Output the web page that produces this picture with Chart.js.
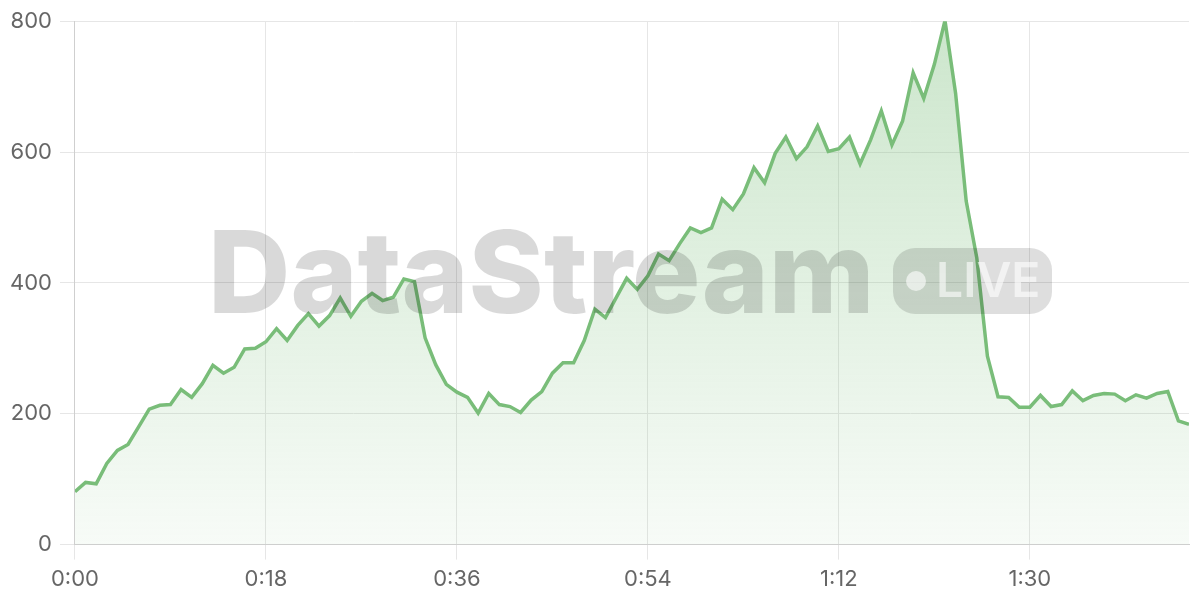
<!DOCTYPE html>
<html>
<head>
<meta charset="utf-8">
<script src="https://cdn.jsdelivr.net/npm/chart.js@4.4.1/dist/chart.umd.min.js"></script>
<style>
  html, body { margin: 0; padding: 0; background: #fff; }
  #wrap { width: 1200px; height: 600px; position: relative; }
</style>
</head>
<body>
<div id="wrap"><canvas id="streamChart"></canvas></div>
<script>
// one reading per second, 0:00 .. 1:45
const viewers = [
  81, 95, 93, 124, 144, 153, 180, 207, 213, 214,
  237, 225, 246, 274, 262, 271, 299, 300, 310, 330,
  312, 335, 353, 334, 350, 377, 349, 372, 384, 373,
  378, 406, 402, 316, 275, 245, 233, 225, 201, 231,
  214, 211, 202, 221, 234, 262, 278, 278, 312, 360,
  347, 377, 407, 390, 411, 444, 434, 460, 484, 477,
  484, 528, 512, 536, 576, 553, 598, 623, 590, 608,
  640, 601, 605, 623, 582, 619, 663, 611, 647, 721,
  682, 734, 801, 690, 525, 438, 288, 226, 225, 210,
  210, 228, 211, 214, 235, 220, 228, 231, 230, 220,
  229, 224, 231, 234, 189, 184
];
const tickSeconds = [0, 18, 36, 54, 72, 90];
const tickLabels = ["0:00", "0:18", "0:36", "0:54", "1:12", "1:30"];
const yTicks = [0, 200, 400, 600, 800];

const lineColor = "#79bd79";

const watermark = {
  id: "watermark",
  afterDatasetsDraw(chart) {
    const ctx = chart.ctx;
    ctx.save();
    ctx.fillStyle = "rgba(0,0,0,0.15)";
    ctx.font = "800 114px Inter";
    ctx.textBaseline = "alphabetic";
    ctx.fillText("DataStream", 208, 313);

    ctx.fillStyle = "rgba(0,0,0,0.13)";
    ctx.beginPath();
    ctx.roundRect(893, 248, 159, 66, 22);
    ctx.fill();

    ctx.fillStyle = "rgba(255,255,255,0.6)";
    ctx.beginPath();
    ctx.arc(916, 281, 10, 0, Math.PI * 2);
    ctx.fill();
    ctx.font = "600 48px Inter";
    ctx.fillText("LIVE", 936, 297);
    ctx.restore();
  }
};

new Chart(document.getElementById("streamChart"), {
  type: "line",
  data: {
    datasets: [{
      data: viewers.map((v, i) => ({ x: i, y: v })),
      borderColor: lineColor,
      borderWidth: 3.5,
      pointRadius: 0,
      tension: 0,
      fill: "origin",
      backgroundColor(context) {
        const area = context.chart.chartArea;
        if (!area) return "rgba(121,189,121,0.15)";
        const g = context.chart.ctx.createLinearGradient(0, area.top, 0, area.bottom);
        g.addColorStop(0, "rgba(121,189,121,0.38)");
        g.addColorStop(1, "rgba(121,189,121,0.06)");
        return g;
      }
    }]
  },
  options: {
    responsive: true,
    maintainAspectRatio: false,
    animation: false,
    layout: { padding: { top: 10, right: 11, left: 2, bottom: 0 } },
    plugins: {
      legend: { display: false },
      tooltip: { enabled: false }
    },
    scales: {
      x: {
        type: "linear",
        min: 0,
        max: viewers.length - 1,
        afterBuildTicks(scale) {
          scale.ticks = tickSeconds.map(v => ({ value: v }));
        },
        ticks: {
          color: "#666",
          font: { family: "Inter", size: 22 },
          padding: 7,
          maxRotation: 0,
          callback: (value, index) => tickLabels[index]
        },
        grid: { color: "#e6e6e6", tickLength: 15 },
        border: { color: "#cfcfcf" }
      },
      y: {
        min: 0,
        max: 800,
        afterBuildTicks(scale) {
          scale.ticks = yTicks.map(v => ({ value: v }));
        },
        ticks: {
          color: "#666",
          font: { family: "Inter", size: 22 },
          padding: 8
        },
        grid: { color: "#e6e6e6", tickLength: 15 },
        border: { color: "#cfcfcf" }
      }
    }
  },
  plugins: [watermark]
});
</script>
</body>
</html>
